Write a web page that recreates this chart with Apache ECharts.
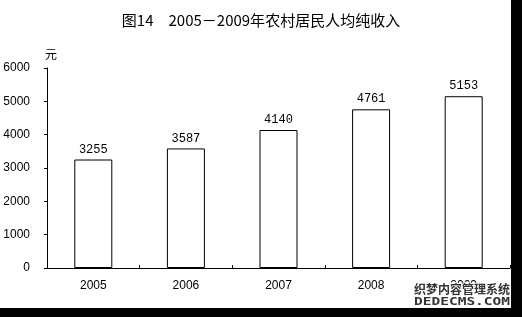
<!DOCTYPE html>
<html>
<head>
<meta charset="utf-8">
<script src="https://cdn.jsdelivr.net/npm/echarts@6/dist/echarts.min.js"></script>
<style>
html,body{margin:0;padding:0;background:#fff;}
#c{width:522px;height:317px;}
</style>
</head>
<body>
<div id="c"></div>
<script>
var titleText = '图14　2005－2009年农村居民人均纯收入';
var unitName = '元';
var categories = ['2005', '2006', '2007', '2008', '2009'];
var values = [3255, 3587, 4140, 4761, 5153];
var yMin = 0, yMax = 6000, yStep = 1000;

var chart = echarts.init(document.getElementById('c'), null, {renderer: 'canvas'});
chart.setOption({
  animation: false,
  backgroundColor: '#fff',
  title: {
    text: titleText,
    left: 'center',
    top: 8,
    textStyle: {fontFamily: 'Noto Sans CJK SC', fontSize: 15, fontWeight: 'normal', color: '#000'}
  },
  grid: {left: 47, top: 68, width: 463, height: 200, containLabel: false},
  xAxis: {
    type: 'category',
    data: categories,
    boundaryGap: true,
    axisLine: {lineStyle: {color: '#000', width: 1}},
    axisTick: {show: true, inside: true, length: 3, lineStyle: {color: '#000'}},
    axisLabel: {color: '#000', fontFamily: 'Liberation Sans', fontSize: 12, margin: 12}
  },
  yAxis: {
    type: 'value',
    min: yMin, max: yMax, interval: yStep,
    name: unitName,
    nameLocation: 'end',
    nameGap: 8,
    nameTextStyle: {color: '#000', fontFamily: 'Noto Sans CJK SC', fontSize: 12, align: 'left', padding: [0, 0, 0, -2]},
    axisLine: {show: true, lineStyle: {color: '#000', width: 1}},
    axisTick: {show: true, inside: false, length: 3, lineStyle: {color: '#000'}},
    splitLine: {show: false},
    axisLabel: {color: '#000', fontFamily: 'Liberation Sans', fontSize: 12, margin: 17,
      formatter: function (v) { return String(v); }}
  },
  series: [{
    type: 'bar',
    data: values,
    barWidth: 38,
    itemStyle: {color: '#fff', borderColor: '#000', borderWidth: 1},
    label: {
      show: true, position: 'top', distance: 4,
      color: '#000', fontFamily: 'Liberation Mono', fontSize: 12
    }
  }],
  graphic: [
    {type: 'rect', shape: {x: 511, y: 0, width: 11, height: 317}, style: {fill: '#000'}, z: 100},
    {type: 'rect', shape: {x: 0, y: 308, width: 522, height: 9}, style: {fill: '#000'}, z: 100},
    {type: 'text', left: 413, top: 282, z: 101,
      style: {text: '织梦内容管理系统', fill: '#333', stroke: '#fff', lineWidth: 2,
        font: 'bold 12px "Noto Sans CJK SC"'}},
    {type: 'text', x: 414, y: 297, scaleX: 1.45, z: 101,
      style: {text: 'DEDECMS.COM', fill: '#333', stroke: '#fff', lineWidth: 2,
        font: 'bold 10px "DejaVu Sans Mono"'}}
  ]
});
</script>
</body>
</html>
